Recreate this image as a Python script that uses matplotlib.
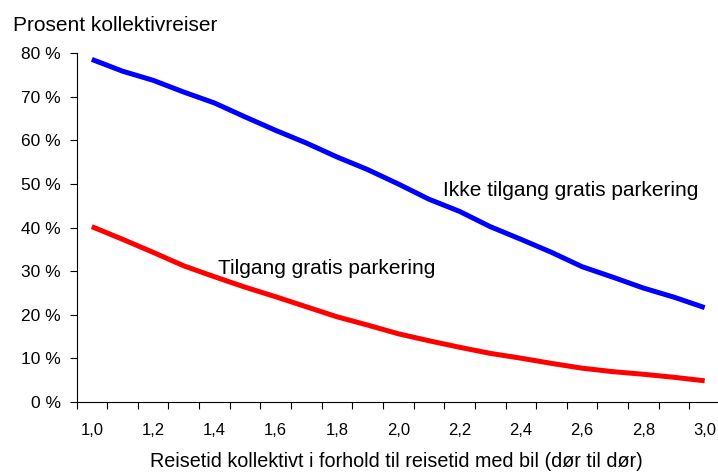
import matplotlib
matplotlib.use("Agg")
import matplotlib.pyplot as plt
import numpy as np

plt.rcParams['font.family'] = ['Liberation Sans', 'DejaVu Sans']

ratio = [1.0, 1.1, 1.2, 1.3, 1.4, 1.5, 1.6, 1.7, 1.8, 1.9, 2.0,
         2.1, 2.2, 2.3, 2.4, 2.5, 2.6, 2.7, 2.8, 2.9, 3.0]
ikke_tilgang = [78.6, 75.9, 73.8, 71.1, 68.6, 65.4, 62.3, 59.4, 56.2, 53.3, 50.0,
                46.5, 43.7, 40.2, 37.3, 34.3, 31.0, 28.6, 26.1, 24.0, 21.6]
tilgang = [40.2, 37.3, 34.3, 31.2, 28.7, 26.3, 24.1, 21.8, 19.5, 17.6, 15.6,
           14.0, 12.5, 11.1, 10.0, 8.8, 7.7, 6.9, 6.3, 5.6, 4.8]
label_ikke = "Ikke tilgang gratis parkering"
label_tilgang = "Tilgang gratis parkering"
x_labels = ["1,0", "1,2", "1,4", "1,6", "1,8", "2,0", "2,2", "2,4", "2,6", "2,8", "3,0"]
y_ticks = [0, 10, 20, 30, 40, 50, 60, 70, 80]

W, H = 718, 472
fig = plt.figure(figsize=(W / 100, H / 100), dpi=100)
ax = fig.add_axes([76.5 / W, (H - 401.7) / H, 643.5 / W, 348.4 / H])

ax.plot(ratio, ikke_tilgang, color='#0000FF', lw=3.6, solid_capstyle='butt')
ax.plot(ratio, tilgang, color='#FF0000', lw=3.6, solid_capstyle='butt')

ax.set_xlim(0.95, 3.05)
ax.set_ylim(0, 80)

ax.spines['top'].set_visible(False)
ax.spines['right'].set_visible(False)
for s in ['left', 'bottom']:
    ax.spines[s].set_linewidth(0.8)
    ax.spines[s].set_color('black')

# category boundaries as tick marks
bounds = np.arange(0.95, 3.06, 0.1)
ax.set_xticks(bounds)
ax.set_xticklabels([])
ax.tick_params(axis='x', which='major', direction='out', length=5, width=0.8)
ax.set_xticks([float(l.replace(',', '.')) for l in x_labels], minor=True)
ax.set_xticklabels(x_labels, minor=True)
ax.tick_params(axis='x', which='minor', length=0, pad=15, labelsize=12)

ax.set_yticks(y_ticks)
ax.set_yticklabels([f"{v} %" for v in y_ticks])
ax.tick_params(axis='y', direction='out', length=5, width=0.8, pad=6.5, labelsize=12.5)

fig.text(396 / W, 5 / H, "Reisetid kollektivt i forhold til reisetid med bil (dør til dør)",
         fontsize=14.2, va='baseline', ha='center')

fig.text(12.7 / W, (H - 31) / H, "Prosent kollektivreiser", fontsize=15, va='baseline', ha='left')

ax.text(2.146, 47.2, label_ikke, fontsize=15, va='baseline', ha='left')
ax.text(1.412, 29.25, label_tilgang, fontsize=15, va='baseline', ha='left')

fig.savefig("out.png", dpi=100)
